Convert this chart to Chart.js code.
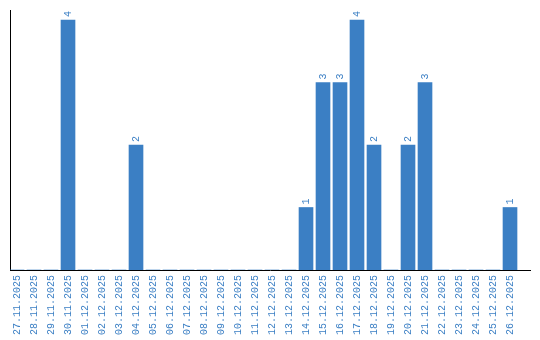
<!DOCTYPE html>
<html>
<head>
<meta charset="utf-8">
<script src="https://cdn.jsdelivr.net/npm/chart.js@4/dist/chart.umd.min.js"></script>
<style>
  body { margin: 0; background: #fff; }
</style>
</head>
<body>
<canvas id="myChart" width="540" height="340"></canvas>
<script>
const days = [
  "27.11.2025", "28.11.2025", "29.11.2025", "30.11.2025", "01.12.2025",
  "02.12.2025", "03.12.2025", "04.12.2025", "05.12.2025", "06.12.2025",
  "07.12.2025", "08.12.2025", "09.12.2025", "10.12.2025", "11.12.2025",
  "12.12.2025", "13.12.2025", "14.12.2025", "15.12.2025", "16.12.2025",
  "17.12.2025", "18.12.2025", "19.12.2025", "20.12.2025", "21.12.2025",
  "22.12.2025", "23.12.2025", "24.12.2025", "25.12.2025", "26.12.2025",
];
const counts = [
  0, 0, 0, 4, 0,
  0, 0, 2, 0, 0,
  0, 0, 0, 0, 0,
  0, 0, 1, 3, 3,
  4, 2, 0, 2, 3,
  0, 0, 0, 0, 1,
];

const blue = "rgb(59, 127, 196)";

// numbers above the bars, rotated like the axis labels
const barLabels = {
  id: "barLabels",
  afterDatasetsDraw(chart) {
    const ctx = chart.ctx;
    const meta = chart.getDatasetMeta(0);
    ctx.save();
    ctx.fillStyle = blue;
    ctx.font = "10px 'Liberation Mono', monospace";
    ctx.textAlign = "left";
    ctx.textBaseline = "middle";
    meta.data.forEach((bar, i) => {
      if (!counts[i]) return;
      ctx.save();
      ctx.translate(bar.x, bar.y - 3);
      ctx.rotate(-Math.PI / 2);
      ctx.fillText(String(counts[i]), 0, 0);
      ctx.restore();
    });
    ctx.restore();
  },
};

const ctx = document.getElementById("myChart");
new Chart(ctx, {
  type: "bar",
  data: {
    datasets: [
      {
        data: counts.map((v, i) => ({ x: i, y: v })),
        backgroundColor: blue,
        barThickness: 14,
      },
    ],
  },
  options: {
    responsive: false,
    animation: false,
    devicePixelRatio: 1,
    layout: { padding: { left: 10, right: 10, top: 10, bottom: 5 } },
    plugins: {
      legend: { display: false },
      tooltip: { enabled: false },
    },
    scales: {
      x: {
        type: "linear",
        offset: false,
        min: -0.412,
        max: 30.176,
        grid: { display: false, drawTicks: false },
        border: { display: true, color: "#000", width: 1 },
        afterBuildTicks: (scale) => {
          scale.ticks = days.map((_, i) => ({ value: i }));
        },
        afterFit: (scale) => {
          scale.height = 65;
          scale.paddingLeft = 0;
          scale.paddingRight = 0;
        },
        ticks: {
          autoSkip: false,
          minRotation: 90,
          maxRotation: 90,
          padding: 5,
          color: blue,
          font: { family: "'Liberation Mono', monospace", size: 10 },
          callback: (value) => days[value] || "",
        },
      },
      y: {
        min: 0,
        max: 4.16,
        grid: { display: false, drawTicks: false },
        border: { display: true, color: "#000", width: 1 },
        ticks: { display: false },
        afterFit: (scale) => {
          scale.width = 0;
        },
      },
    },
  },
  plugins: [barLabels],
});
</script>
</body>
</html>
